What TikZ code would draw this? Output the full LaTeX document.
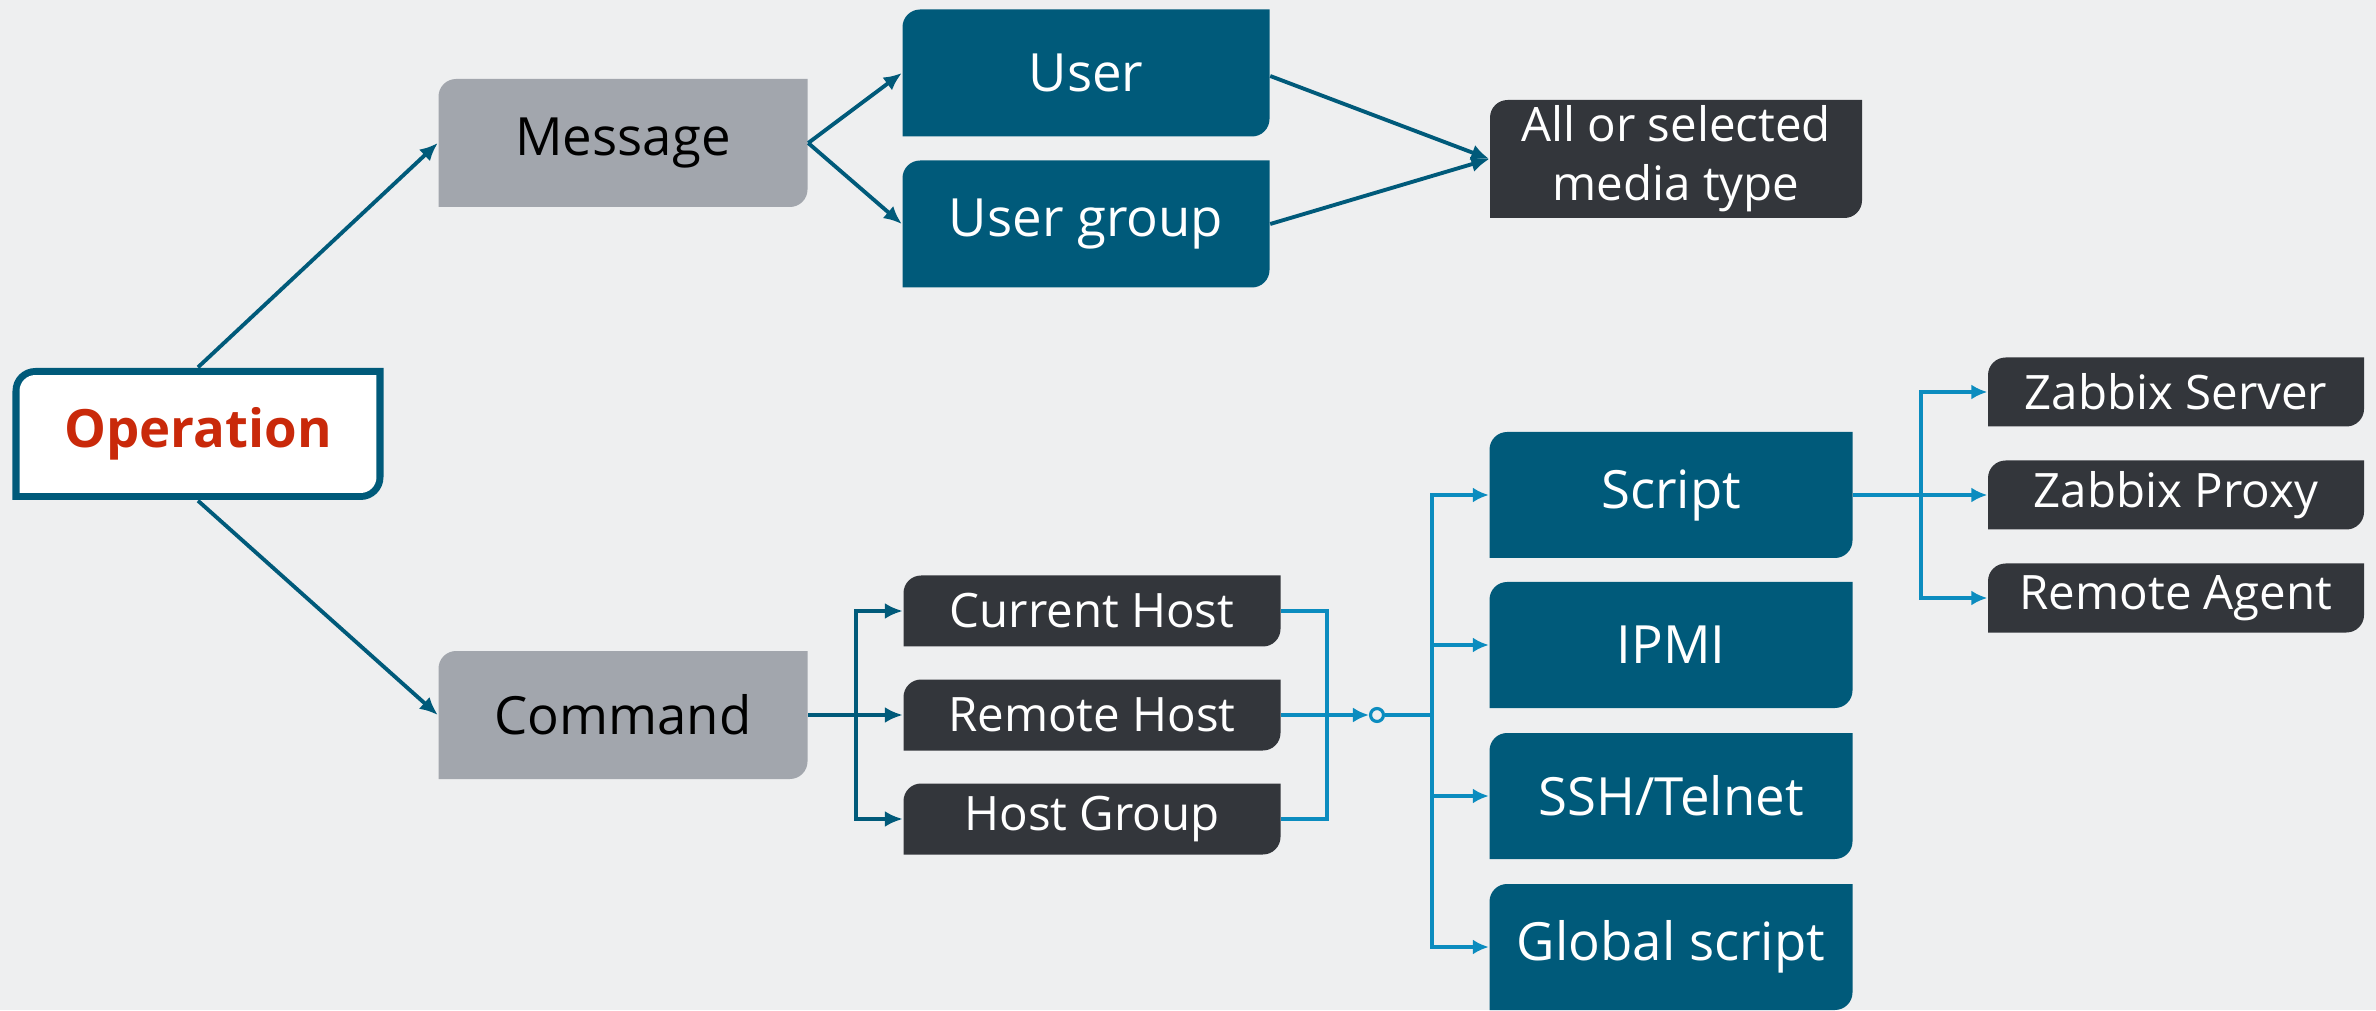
\documentclass[tikz,border=0pt]{standalone}
\usepackage{fontspec}
\setmainfont{Open Sans}
\usetikzlibrary{arrows.meta}
\definecolor{bgcol}{HTML}{EEEFF0}
\definecolor{zteal}{HTML}{005A7A}
\definecolor{zdark}{HTML}{33363B}
\definecolor{zgray}{HTML}{A2A6AD}
\definecolor{zred}{HTML}{C9290A}
\definecolor{zblue}{HTML}{0B8CBF}
\newcommand{\leafpath}[2]{([shift={(#1,#1)}]path picture bounding box.south west) -- ([shift={(#1,-#1-#2)}]path picture bounding box.north west) arc[start angle=180,end angle=90,radius=#2] -- ([shift={(-#1,-#1)}]path picture bounding box.north east) -- ([shift={(-#1,#1+#2)}]path picture bounding box.south east) arc[start angle=0,end angle=-90,radius=#2] -- cycle}
\tikzset{
  leaf/.style={path picture={\fill[#1] \leafpath{0pt}{5pt};}},
  box/.style={inner sep=0pt, align=center, font=\fontsize{15}{18}\selectfont},
  graybox/.style={box, leaf=zgray, minimum width=3.69cm, minimum height=1.28cm},
  tealbox/.style={box, leaf=zteal, text=white, minimum width=3.63cm, minimum height=1.26cm},
  darkbox/.style={box, leaf=zdark, text=white, font=\fontsize{13.5}{16.7}\selectfont, minimum width=3.77cm, minimum height=0.71cm},
  opbox/.style={box, text=zred, font=\fontsize{15}{18}\selectfont\bfseries, minimum width=3.71cm, minimum height=1.32cm,
    path picture={\fill[zteal] \leafpath{0pt}{6.5pt}; \fill[white] \leafpath{2pt}{4.5pt};}},
  tline/.style={zteal, line width=1.1pt, -{Latex[length=1.8mm,width=1.6mm]}},
  bline/.style={zblue, line width=1pt},
}
\begin{document}
\begin{tikzpicture}[>={Latex[length=1.6mm,width=1.5mm]}]
\fill[bgcol] (0,0) rectangle (23.76,10.10);
\useasboundingbox (0,0) rectangle (23.76,10.10);

\node[opbox] (op) at (1.98,5.76) {Operation};
\node[graybox] (msg) at (6.23,8.67) {Message};
\node[graybox] (cmd) at (6.23,2.95) {Command};
\node[tealbox, minimum width=3.67cm, minimum height=1.27cm] (user) at (10.86,9.37) {User};
\node[tealbox, minimum width=3.67cm, minimum height=1.27cm] (ugroup) at (10.86,7.86) {User group};
\node[darkbox, minimum width=3.72cm, minimum height=1.18cm] (media) at (16.76,8.51) {All or selected\\media type};
\node[darkbox] (curhost) at (10.92,3.99) {Current Host};
\node[darkbox] (remhost) at (10.92,2.95) {Remote Host};
\node[darkbox] (hgroup) at (10.92,1.91) {Host Group};
\node[tealbox] (script) at (16.71,5.15) {Script};
\node[tealbox] (ipmi) at (16.71,3.65) {IPMI};
\node[tealbox] (ssh) at (16.71,2.14) {SSH/Telnet};
\node[tealbox] (glob) at (16.71,0.63) {Global script};
\node[darkbox, minimum width=3.76cm, minimum height=0.69cm] (zserver) at (21.76,6.18) {Zabbix Server};
\node[darkbox, minimum width=3.76cm, minimum height=0.69cm] (zproxy) at (21.76,5.15) {Zabbix Proxy};
\node[darkbox, minimum width=3.76cm, minimum height=0.69cm] (ragent) at (21.76,4.12) {Remote Agent};

\draw[tline] (op.north) -- (msg.west);
\draw[tline] (op.south) -- (cmd.west);
\draw[tline] (msg.east) -- (user.west);
\draw[tline] (msg.east) -- (ugroup.west);
\draw[tline] ([yshift=-0.03cm]user.east) -- (media.west);
\draw[tline] (ugroup.east) -- (media.west);

\coordinate (cj) at (8.56,2.95);
\draw[tline,-] (cmd.east) -- (cj);
\draw[tline] (cj) |- (curhost.west);
\draw[tline] (cj) -- (remhost.west);
\draw[tline] (cj) |- (hgroup.west);

\coordinate (hj) at (13.27,2.95);
\node[circle, draw=zblue, fill=bgcol, line width=0.9pt, inner sep=1.3pt] (knot) at (13.77,2.95) {};
\coordinate (sj) at (14.32,2.95);
\draw[bline] (curhost.east) -| (hj);
\draw[bline] (hgroup.east) -| (hj);
\draw[bline,->] (remhost.east) -- (knot.west);
\draw[bline] (knot.east) -- (sj);
\draw[bline,->] (sj) |- (script.west);
\draw[bline,->] (sj) |- (ipmi.west);
\draw[bline,->] (sj) |- (ssh.west);
\draw[bline,->] (sj) |- (glob.west);

\coordinate (zj) at (19.21,5.15);
\draw[bline] (script.east) -- (zj);
\draw[bline,->] (zj) |- (zserver.west);
\draw[bline,->] (zj) -- (zproxy.west);
\draw[bline,->] (zj) |- (ragent.west);
\end{tikzpicture}
\end{document}
